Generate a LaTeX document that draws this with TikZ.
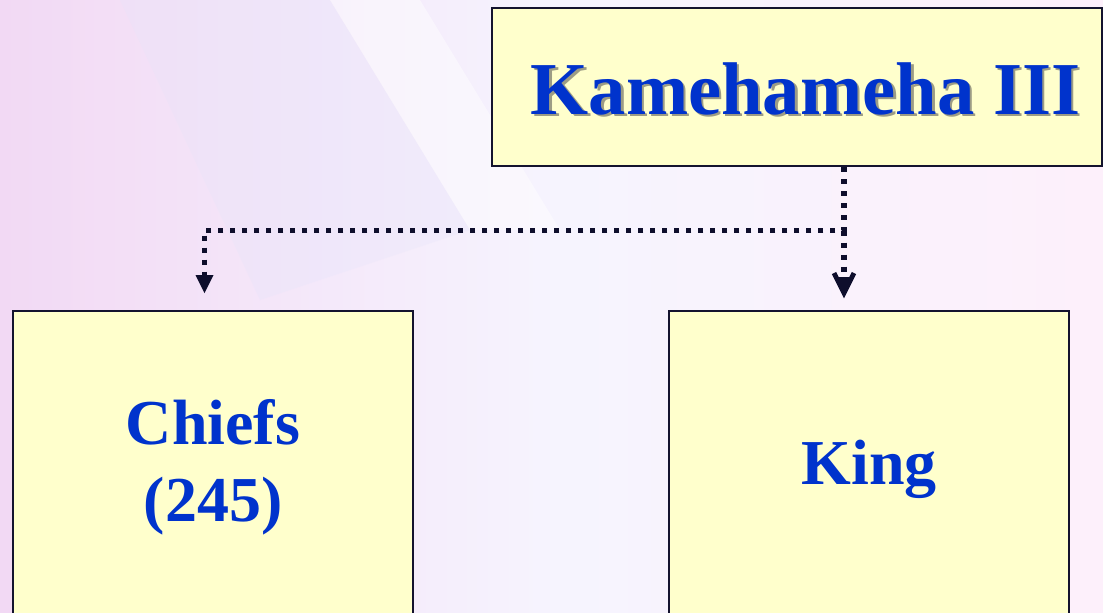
\documentclass[tikz,border=0pt]{standalone}
\usepackage{fontspec}
\setmainfont{Liberation Serif}
\usetikzlibrary{arrows.meta,calc}
\definecolor{boxfill}{HTML}{FFFFCC}
\definecolor{boxline}{HTML}{14132E}
\definecolor{txtblue}{HTML}{0033CC}
\definecolor{linedark}{HTML}{0E0E2C}
\definecolor{bgA}{HTML}{F2D9F4}
\definecolor{bgB}{HTML}{E6E4FA}
\definecolor{bgC}{HTML}{F6F4FE}
\definecolor{bgD}{HTML}{FDF0FB}
\tikzset{
  box/.style={draw=boxline, line width=1.6pt, fill=boxfill},
  lbl/.style={text=txtblue, font=\bfseries, align=center},
  conn/.style={draw=linedark, line width=3.8pt, dash pattern=on 4pt off 5pt},
}
\begin{document}
\begin{tikzpicture}[x=0.75pt,y=-0.75pt]
\useasboundingbox (0,0) rectangle (1103,612);
% background
\shade[left color=bgA, right color=bgC] (0,0) rectangle (560,612);
\shade[left color=bgC, right color=bgD] (560,0) rectangle (1103,612);
\fill[white, opacity=0.45] (330,0) -- (420,0) -- (560,230) -- (470,230) -- cycle;
\fill[bgB, opacity=0.3] (120,0) -- (330,0) -- (470,230) -- (260,300) -- cycle;
% boxes
\node[box, minimum width=610*0.75pt, minimum height=158*0.75pt, anchor=north west] (k3) at (491,7) {};
\node[box, minimum width=400*0.75pt, minimum height=330*0.75pt, anchor=north west] (chiefs) at (12,310) {};
\node[box, minimum width=400*0.75pt, minimum height=330*0.75pt, anchor=north west] (king) at (668,310) {};
% texts
\node[text=black!70, font=\bfseries\fontsize{56}{60}\selectfont, opacity=0.55] at (808,91) {Kamehameha III};
\node[lbl, font=\bfseries\fontsize{56}{60}\selectfont] (k3t) at (805.5,88.5) {Kamehameha III};
\node[lbl, font=\bfseries\fontsize{48}{58}\selectfont] (chiefst) at (213,467) {Chiefs\\(245)};
\node[lbl, font=\bfseries\fontsize{48}{58}\selectfont] (kingt) at (869,469) {King};
% connectors
\coordinate (j) at (844,230.5);
\coordinate (lt) at (204.5,293);
\coordinate (rt) at (844,293);
\draw[conn] (k3.south -| j) -- (j) -- (j -| lt) -- ($(lt)+(0,-16)$);
\draw[conn] (j) -- ($(rt)+(0,-18)$);
\fill[linedark] (lt) -- ++(-9,-18) -- ++(18,0) -- cycle;
\draw[linedark, line width=3.6pt, line join=miter] ($(rt)+(-10,-20)$) -- (rt) -- ($(rt)+(10,-20)$);
\fill[linedark] (rt) -- ++(-8,-16) -- ++(16,0) -- cycle;
\end{tikzpicture}
\end{document}
